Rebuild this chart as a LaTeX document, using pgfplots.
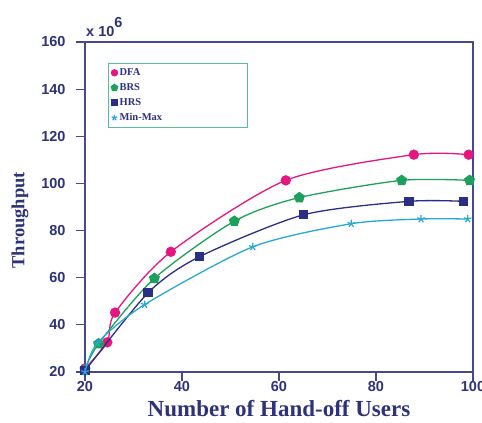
\documentclass[border=0pt]{standalone}
\usepackage{fontspec}
\setmainfont{Liberation Serif}
\setsansfont{Liberation Sans}
\usepackage{pgfplots}
\pgfplotsset{compat=1.18}
\definecolor{cDFA}{RGB}{228,22,128}
\definecolor{cBRS}{RGB}{30,160,92}
\definecolor{cHRS}{RGB}{42,46,132}
\definecolor{cMM}{RGB}{40,168,215}
\definecolor{cAx}{RGB}{72,72,140}
\definecolor{cTxt}{RGB}{46,50,120}
\definecolor{cLeg}{RGB}{90,190,150}
\begin{document}
\begin{tikzpicture}[x=1pt,y=1pt]
\useasboundingbox (-85,-51) rectangle (397,372);
\begin{axis}[
  scale only axis,
  clip mode=individual,
  width=388pt, height=330pt,
  xmin=20, xmax=100, ymin=20, ymax=160,
  xtick={20,40,60,80,100}, ytick={20,40,...,160},
  axis line style={cAx, line width=1.1pt},
  tick style={cAx, line width=1.1pt},
  tick align=outside, major tick length=9pt,
  xtick pos=bottom, ytick pos=left,
  /pgf/number format/assume math mode=true,
  ticklabel style={font=\sffamily\bfseries\fontsize{14.5}{16}\selectfont, text=cTxt},
  xticklabel style={yshift=3pt},
  yticklabel style={xshift=-7pt},
  xlabel={Number of Hand-off Users},
  ylabel={Throughput},
  xlabel style={font=\bfseries\fontsize{23}{26}\selectfont, text=cTxt, yshift=-2pt},
  ylabel style={font=\bfseries\fontsize{18.5}{22}\selectfont, text=cTxt, at={(ticklabel cs:0.46)}, yshift=6pt},
  legend style={at={(0.059,0.936)}, anchor=north west, draw=cLeg, line width=0.9pt,
    font=\bfseries\fontsize{10.5}{11}\selectfont, text=cTxt, inner ysep=3pt,
    row sep=2.5pt},
  legend cell align=left,
  every axis plot/.append style={line width=1.3pt},
]
\addplot[cDFA, smooth, tension=0.45, mark=*, mark size=4.5pt, forget plot] coordinates {
 (20,21.5) (24.6,32.6) (26.2,45.2) (37.7,71) (61.4,101.3) (87.8,112.2) (99.1,112.2)};
\addplot[cBRS, smooth, tension=0.45, mark=pentagon*, mark size=5pt, forget plot] coordinates {
 (20,21) (22.8,32) (34.3,59.7) (50.8,84) (64.2,94) (85.3,101.3) (99.3,101.3)};
\addplot[cHRS, smooth, tension=0.45, mark=square*, mark size=4pt, forget plot] coordinates {
 (20,20.5) (33,53.6) (43.6,68.9) (65.1,86.7) (86.8,92.4) (98.1,92.4)};
\addplot[cMM, smooth, tension=0.45, mark=star, mark size=4pt, mark options={fill=cMM, line width=1.2pt}, forget plot] coordinates {
 (20,20) (22.5,32.2) (32.3,48.6) (54.6,73.1) (74.9,82.9) (89.3,84.9) (98.9,84.9)};
\addlegendimage{only marks, cDFA, mark=*, mark size=3pt}
\addlegendentry{\makebox[123pt][l]{DFA}}
\addlegendimage{only marks, cBRS, mark=pentagon*, mark size=3.3pt}
\addlegendentry{BRS}
\addlegendimage{only marks, cHRS, mark=square*, mark size=2.8pt}
\addlegendentry{HRS}
\addlegendimage{only marks, cMM, mark=star, mark size=3pt, mark options={line width=1.2pt}}
\addlegendentry{Min-Max}
\node[anchor=south west, font=\sffamily\bfseries\fontsize{14.5}{16}\selectfont, text=cTxt, inner sep=0pt]
  at (rel axis cs:0,1) [yshift=5pt, xshift=1pt] {x 10\raisebox{9pt}{6}};
\end{axis}
\end{tikzpicture}
\end{document}
